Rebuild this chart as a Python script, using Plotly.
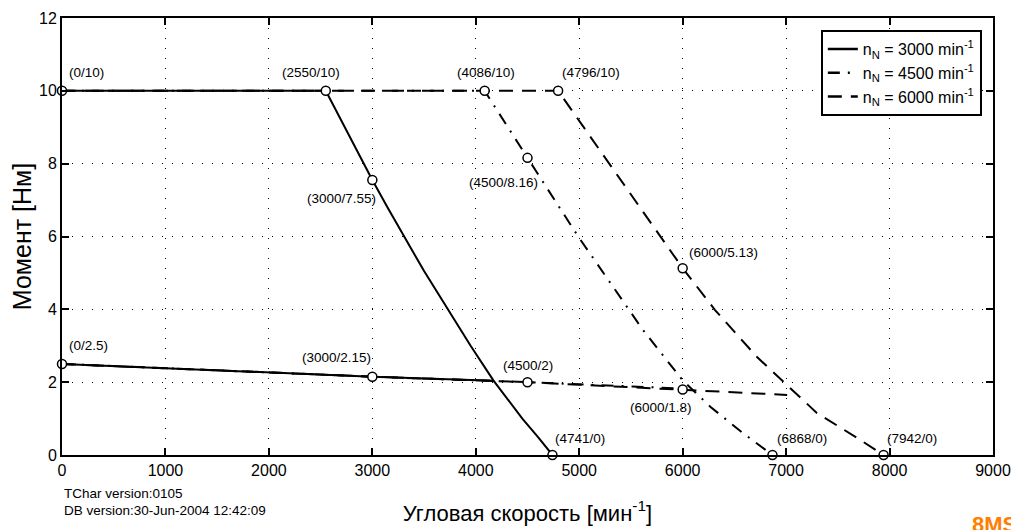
import plotly.graph_objects as go

# ---- data ----
# peak torque curves (x: speed min^-1, y: torque Nm)
peak_3000_x = [0, 2550, 3000, 3150, 3500, 3950, 4170, 4450, 4600, 4741]
peak_3000_y = [10, 10, 7.55, 6.78, 5.05, 3.0, 2.05, 1.0, 0.5, 0]
peak_4500_x = [0, 4086, 4500, 4990, 5617, 6000, 6270, 6570, 6868]
peak_4500_y = [10, 10, 8.16, 6.0, 3.43, 2.05, 1.32, 0.63, 0]
peak_6000_x = [0, 4796, 6000, 6313, 6719, 6990, 7299, 7686, 7942]
peak_6000_y = [10, 10, 5.13, 3.98, 2.69, 1.98, 1.15, 0.47, 0]

# continuous torque curves
cont_3000_x = [0, 3000, 4170]
cont_3000_y = [2.5, 2.15, 2.04]
cont_4500_x = [0, 3000, 4500, 5960]
cont_4500_y = [2.5, 2.15, 2.0, 1.83]
cont_6000_x = [0, 3000, 4500, 6000, 7010]
cont_6000_y = [2.5, 2.15, 2.0, 1.8, 1.65]

# labelled points
pt_x = [0, 2550, 4086, 4796, 3000, 4500, 6000, 4741, 6868, 7942, 0, 3000, 4500, 6000]
pt_y = [10, 10, 10, 10, 7.55, 8.16, 5.13, 0, 0, 0, 2.5, 2.15, 2, 1.8]
pt_text = ["(0/10)", "(2550/10)", "(4086/10)", "(4796/10)", "(3000/7.55)", "(4500/8.16)",
           "(6000/5.13)", "(4741/0)", "(6868/0)", "(7942/0)", "(0/2.5)", "(3000/2.15)",
           "(4500/2)", "(6000/1.8)"]

legend_names = ["n<sub>N</sub> = 3000 min<sup>-1</sup>",
                "n<sub>N</sub> = 4500 min<sup>-1</sup>",
                "n<sub>N</sub> = 6000 min<sup>-1</sup>"]

x_ticks = list(range(0, 9001, 1000))
y_ticks = list(range(0, 13, 2))

# ---- styling ----
DASHDOT = "12px,8px,2px,8px"
DASHED = "14px,9px"
styles = ["solid", DASHDOT, DASHED]
LW = 2
FONT = "Liberation Sans, Arial"

# label placement: (xanchor, yanchor, xshift, yshift)
placement = [
    ("left", "middle", 5, 18), ("center", "middle", -15, 18), ("center", "middle", 1, 18),
    ("left", "middle", 2, 18), ("right", "middle", 6, -18), ("right", "middle", 12, -25),
    ("left", "middle", 4, 16), ("left", "middle", 1, 17), ("left", "middle", 3, 17),
    ("left", "middle", 1, 17), ("left", "middle", 5, 18), ("right", "middle", 1, 19),
    ("center", "middle", 0, 17), ("right", "middle", 11, -18),
]

fig = go.Figure()

series = [
    (peak_6000_x, peak_6000_y, cont_6000_x, cont_6000_y, DASHED),
    (peak_4500_x, peak_4500_y, cont_4500_x, cont_4500_y, DASHDOT),
    (peak_3000_x, peak_3000_y, cont_3000_x, cont_3000_y, "solid"),
]
for px, py, cx, cy, dash in series:
    for xs, ys in ((px, py), (cx, cy)):
        fig.add_trace(go.Scatter(x=xs, y=ys, mode="lines", showlegend=False,
                                 line=dict(color="black", width=LW, dash=dash),
                                 hoverinfo="skip"))

# markers
fig.add_trace(go.Scatter(x=pt_x, y=pt_y, mode="markers", showlegend=False,
                         marker=dict(size=9, color="white",
                                     line=dict(color="black", width=1.5)),
                         cliponaxis=False))

# legend entries
for name, dash in zip(legend_names, styles):
    fig.add_trace(go.Scatter(x=[None], y=[None], mode="lines", name=name,
                             line=dict(color="black", width=LW + 0.5, dash=dash)))

for x, y, t, (xa, ya, xs, ys) in zip(pt_x, pt_y, pt_text, placement):
    fig.add_annotation(x=x, y=y, text=t, showarrow=False, xanchor=xa, yanchor=ya,
                       xshift=xs, yshift=ys,
                       font=dict(family=FONT, size=13.5, color="black"))

fig.add_annotation(xref="paper", yref="paper", x=0, y=-0.089, xanchor="left",
                   yanchor="middle", text="TChar version:0105", showarrow=False,
                   font=dict(family=FONT, size=13.5, color="black"))
fig.add_annotation(xref="paper", yref="paper", x=0, y=-0.126, xanchor="left",
                   yanchor="middle", text="DB version:30-Jun-2004 12:42:09", showarrow=False,
                   font=dict(family=FONT, size=13.5, color="black"))
fig.add_annotation(xref="paper", yref="paper", x=0.975, y=-0.125, xanchor="left",
                   yanchor="top", text="<b>8MS</b>", showarrow=False,
                   font=dict(family=FONT, size=22, color="#ff8000"))

axis_common = dict(showline=True, linecolor="black", linewidth=2, mirror="ticks",
                   ticks="inside", ticklen=7, tickwidth=1.5, tickcolor="black",
                   showgrid=True, gridcolor="black", gridwidth=1, griddash="1px,9px",
                   zeroline=False, automargin=False,
                   tickfont=dict(family=FONT, size=16, color="black"))

fig.update_xaxes(range=[0, 9000], tickvals=x_ticks, **axis_common,
                 title=dict(text="Угловая скорость [мин<sup>-1</sup>]", standoff=27,
                            font=dict(family=FONT, size=22, color="black")))
fig.update_yaxes(range=[0, 12], tickvals=y_ticks, **axis_common,
                 title=dict(text="Момент [Нм]", standoff=12,
                            font=dict(family=FONT, size=25, color="black")))

# page body has an 8px margin, so the figure is shrunk/shifted to put the
# plot area at the same place as in the reference
fig.update_layout(
    width=1011, height=522,
    margin=dict(l=54, r=26, t=10, b=75),
    plot_bgcolor="white", paper_bgcolor="white",
    legend=dict(x=0.988, y=0.9725, xanchor="right", yanchor="top",
                bgcolor="white", bordercolor="black", borderwidth=2,
                font=dict(family=FONT, size=16, color="black"),
                tracegroupgap=0, itemwidth=30),
)

fig.write_html("out.html")
